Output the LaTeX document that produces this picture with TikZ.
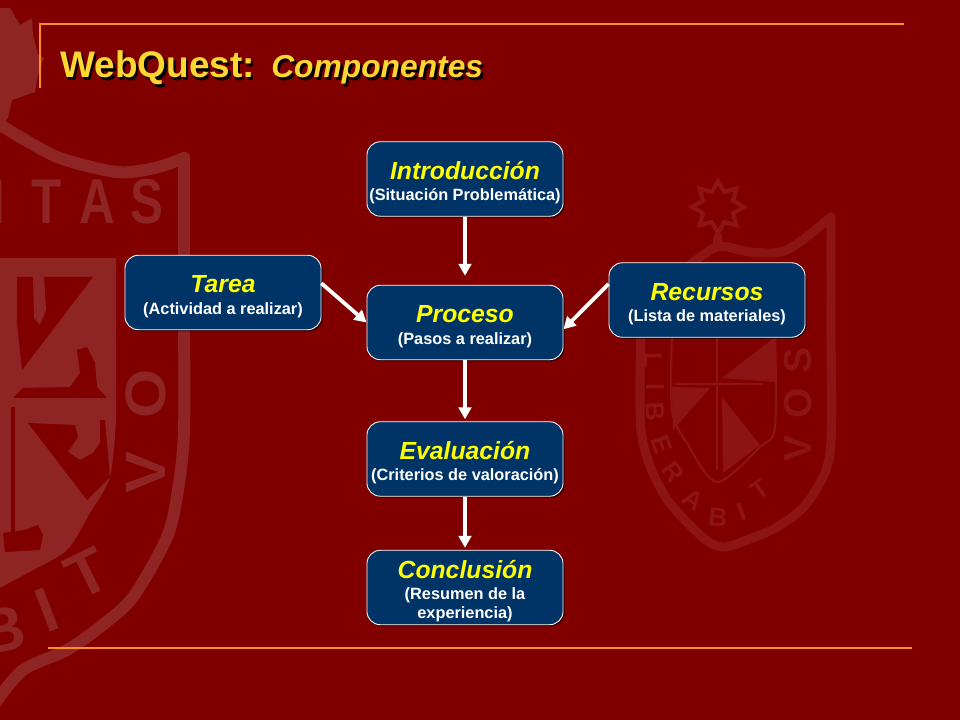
\documentclass[tikz,border=0pt]{standalone}
\usepackage{fontspec}
\setmainfont{Liberation Sans}
\usetikzlibrary{arrows.meta,shadows,shapes.geometric}
\definecolor{slidered}{HTML}{800000}
\definecolor{crestred}{HTML}{8F2424}
\definecolor{crestfaint}{HTML}{8C1414}
\definecolor{boxblue}{HTML}{003366}
\definecolor{rulecolor}{HTML}{FF8C1E}
\definecolor{titlegold}{HTML}{FFD733}
\definecolor{headyellow}{HTML}{FFFF00}
\newcommand{\stagetext}[2]{\rule{0pt}{18pt}{\fontsize{17.6}{19}\selectfont\itshape\color{headyellow}#1}\\[2pt]#2}
\tikzset{
	stagebox/.style={draw=white, line width=0.6pt, fill=boxblue, rounded corners=9.5pt, text=white, align=center, font=\fontsize{11.6}{13.5}\selectfont\bfseries, inner sep=0pt, minimum width=4.9cm, minimum height=1.86cm, drop shadow={shadow xshift=0.04cm, shadow yshift=-0.04cm, opacity=0.55, fill=black}},
	flow/.style={draw=white, line width=2.7pt, -{Triangle[width=9pt,length=8.5pt]}},
	rulepart/.style={draw=rulecolor, line width=1.5pt},
	crestband/.style={draw=crestred, line width=8.5pt, line cap=round, line join=round},
	crestbandfaint/.style={draw=crestfaint, line width=6.5pt, line cap=round, line join=round},
	crestletter/.style={text=crestred, font=\fontsize{45}{45}\selectfont\bfseries, inner sep=0pt, transform shape},
	faintletter/.style={text=crestfaint, font=\fontsize{18.5}{19}\selectfont\bfseries, inner sep=0pt, transform shape},
	titlepart/.style={inner sep=0pt, anchor=base west}
}
\begin{document}
\begin{tikzpicture}[x=0.025cm, y=-0.025cm]
				\useasboundingbox (0,0) rectangle (960,720);
				\fill[slidered] (0,0) rectangle (960,720);
				\fill[crestred] (-2,8) -- (10,8) -- (20,25) -- (32,18) -- (33,35) -- (38,55) -- (44,58) -- (38,75) -- (35,92) -- (12,100) -- (8,118) -- (-2,128) -- cycle;
				\draw[crestband] plot[smooth] coordinates {(-4,122) (20,137) (60,158) (117,172) (155,168) (184,158)};
				\draw[crestband] plot[smooth] coordinates {(184,158) (184,300) (184,430) (178,490) (167,537) (133,597) (100,627) (67,650) (23,670) (-4,702)};
				\fill[crestred] (-4,258) -- (116,258) -- (116,420) -- plot[smooth] coordinates {(116,420) (110,477) (90,513) (67,550) (33,570) (-4,590)} -- cycle;
				\fill[slidered] (17,277) -- (93,277) -- (22,370) -- (17,323) -- cycle;
				\fill[crestred] (33,276) -- (44,276) -- (46,310) -- (40,325) -- (34,318) -- cycle;
				\fill[slidered] (13,398) -- (107,398) -- (97,387) -- (95,363) -- (87,347) -- (77,350) -- (80,373) -- (70,387) -- (23,388) -- cycle;
				\fill[slidered] (28,423) -- (75,425) -- (78,437) -- (68,452) -- (80,460) -- (93,453) -- (100,443) -- (100,420) -- (105,420) -- (110,477) -- (87,500) -- cycle;
				\fill[slidered] (11,407) rectangle (15,540);
				\fill[slidered] (3,533) -- (25,530) -- (38,525) -- (43,535) -- (40,550) -- (5,552) -- cycle;
				\node[crestletter] (crestI) at (-3,202) {I};
				\node[crestletter, xscale=0.78] (crestT) at (47,202) {T};
				\node[crestletter, xscale=0.78] (crestA) at (97,202) {A};
				\node[crestletter, xscale=0.78] (crestS) at (147,202) {S};
				\node[crestletter, rotate=90, yscale=0.9] (crestO) at (146,394) {O};
				\node[crestletter, rotate=90, yscale=0.9] (crestV) at (146,472) {V};
				\node[crestletter, rotate=26] (crestTb) at (87,573) {T};
				\node[crestletter, rotate=21] (crestIb) at (47,610) {I};
				\node[crestletter, rotate=10] (crestB) at (2,630) {B};
				\node[star, star points=8, star point ratio=1.6, draw=crestfaint, line width=3pt, minimum size=1.3cm, inner sep=0pt] (crestsun) at (718,207) {};
				\draw[crestbandfaint] (crestsun.south) -- (717,247);
				\draw[crestbandfaint] plot[smooth] coordinates {(642,300) (652,285) (680,272) (717,247) (750,252) (787,250) (831,217)};
				\draw[crestbandfaint] plot[smooth] coordinates {(831,217) (831,330) (830,453) (807,503) (777,527) (747,540) (722,547) (700,535) (663,493) (641,430) (642,300)};
				\draw[crestfaint, line width=1.5pt] plot[smooth] coordinates {(672,330) (672,410) (687,443) (717,482) (760,447) (775,427) (775,330)};
				\fill[crestfaint] (722,378) -- (775,337) -- (775,382) -- cycle;
				\fill[crestfaint] (722,397) -- (760,445) -- (723,473) -- cycle;
				\fill[crestfaint] (672,387) -- (710,388) -- (673,430) -- cycle;
				\draw[crestfaint, line width=1.5pt] (675,384) -- (763,384);
				\draw[crestfaint, line width=1.5pt] (717,337) -- (717,470);
				\node[faintletter, rotate=-90] (libL) at (653,360) {L};
				\node[faintletter, rotate=-90] (libI) at (655,387) {I};
				\node[faintletter, rotate=-88] (libB) at (655,412) {B};
				\node[faintletter, rotate=-70] (libE) at (662,445) {E};
				\node[faintletter, rotate=-55] (libR) at (673,472) {R};
				\node[faintletter, rotate=-35] (libA) at (693,500) {A};
				\node[faintletter, rotate=-5] (libBb) at (718,517) {B};
				\node[faintletter, rotate=20] (libIb) at (742,512) {I};
				\node[faintletter, rotate=35] (libT) at (760,490) {T};
				\node[faintletter, rotate=90, scale=1.5] (libV) at (798,448) {V};
				\node[faintletter, rotate=90, scale=1.5] (libO) at (798,403) {O};
				\node[faintletter, rotate=90, scale=1.5] (libS) at (798,360) {S};
				\coordinate (topcorner) at (40,24);
				\coordinate (topend) at (904,24);
				\coordinate (sideend) at (40,88);
				\coordinate (lowstart) at (48,648);
				\coordinate (lowend) at (912,648);
				\draw[rulepart] (topend) -- (topcorner) -- (sideend);
				\draw[rulepart] (lowstart) -- (lowend);
				\node[titlepart, text=black, font=\fontsize{26.3}{28}\selectfont\bfseries] (titleshade) at (62.5,80.5) {WebQuest:};
				\node[titlepart, text=black, font=\fontsize{22.6}{24}\selectfont\bfseries\itshape] (subtitleshade) at (273.5,80.5) {Componentes};
				\node[titlepart, text=titlegold, font=\fontsize{26.3}{28}\selectfont\bfseries] (title) at (60,78) {WebQuest:};
				\node[titlepart, text=titlegold, font=\fontsize{22.6}{24}\selectfont\bfseries\itshape] (subtitle) at (271,78) {Componentes};
				\node[stagebox] (intro) at (465,179) {\stagetext{Introducción}{(Situación Problemática)}};
				\node[stagebox] (proceso) at (465,322.5) {\stagetext{Proceso}{(Pasos a realizar)}};
				\node[stagebox] (tarea) at (223,292.5) {\stagetext{Tarea}{(Actividad a realizar)}};
				\node[stagebox] (recursos) at (707,300) {\stagetext{Recursos}{(Lista de materiales)}};
				\node[stagebox] (evaluacion) at (465,459) {\stagetext{Evaluación}{(Criterios de valoración)}};
				\node[stagebox] (conclusion) at (465,587.5) {\stagetext{Conclusión}{(Resumen de la\\experiencia)}};
				\draw[flow, shorten >=6.5pt] (intro) -- (proceso);
				\draw[flow, shorten >=1.5pt] (proceso) -- (evaluacion);
				\draw[flow, shorten >=1.5pt] (evaluacion) -- (conclusion);
				\draw[flow] ([yshift=0.23cm]tarea.east) -- (proceso.west);
				\draw[flow] ([yshift=0.4cm]recursos.west) -- ([yshift=-0.17cm]proceso.east);
			\end{tikzpicture}
\end{document}
